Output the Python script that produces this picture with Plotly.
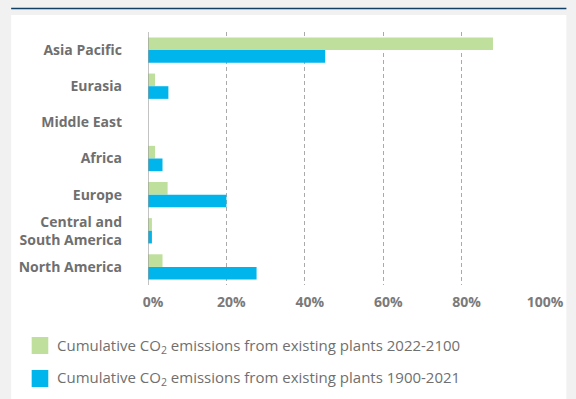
import plotly.graph_objects as go

regions = ["Asia Pacific", "Eurasia", "Middle East", "Africa", "Europe",
           "Central and<br>South America", "North America"]
future_2022_2100 = [88.0, 1.8, 0.0, 1.8, 5.0, 1.0, 3.7]
past_1900_2021 = [45.2, 5.2, 0.0, 3.7, 20.0, 1.0, 27.7]
series_names = ["Cumulative CO<sub>2</sub> emissions from existing plants 2022-2100",
                "Cumulative CO<sub>2</sub> emissions from existing plants 1900-2021"]
series_colors = ["#bfdf9c", "#00b5ec"]
tick_vals = [0, 20, 40, 60, 80, 100]
tick_text = ["0%", "20%", "40%", "60%", "80%", "100%"]

FONT = "Open Sans"
GRAY = "#6f6f6f"

fig = go.Figure()
for vals, name, col in zip([future_2022_2100, past_1900_2021], series_names, series_colors):
    fig.add_trace(go.Bar(y=regions, x=vals, orientation="h", name=name,
                         marker=dict(color=col, line=dict(width=0)),
                         showlegend=False))

W, H = 576, 399
L, R, T, B = 148, 27, 32, 114
PW, PH = W - L - R, H - T - B


def px(x):
    return (x - L) / PW


def py(y):
    return (H - B - y) / PH


fig.update_layout(
    width=W, height=H,
    margin=dict(l=L, r=R, t=T, b=B),
    paper_bgcolor="#f1f1f1",
    plot_bgcolor="rgba(0,0,0,0)",
    barmode="group", bargap=0.3, bargroupgap=0,
    font=dict(family=FONT, color=GRAY),
    xaxis=dict(range=[0, 100], tickvals=tick_vals, ticktext=tick_text,
               showgrid=True, gridcolor="#aaaaaa", gridwidth=1, griddash="4px,3px",
               zeroline=False, showline=False, ticks="",
               tickfont=dict(family=FONT, size=14, color="#7a7a7a", weight="bold"),
               ticklabelstandoff=7, ticklabelshift=5, fixedrange=True),
    yaxis=dict(autorange="reversed", showgrid=False, zeroline=False,
               showline=False, ticks="",
               tickfont=dict(family=FONT, size=14, color=GRAY, weight="bold"),
               ticklabelstandoff=25, fixedrange=True),
)

shapes = []
# white panel
shapes.append(dict(type="rect", xref="paper", yref="paper", layer="below",
                   x0=px(8), x1=px(576), y0=py(399), y1=py(15),
                   fillcolor="white", line=dict(width=0)))
# top navy rule
shapes.append(dict(type="line", xref="paper", yref="paper",
                   x0=px(8), x1=px(576), y0=py(8.5), y1=py(8.5),
                   line=dict(color="#123f66", width=1.5)))
# y axis baseline at 0
shapes.append(dict(type="line", xref="x", yref="paper", x0=0, x1=0, y0=0, y1=1,
                   line=dict(color="#9a9a9a", width=1.2)))
# legend swatches and labels
annotations = []
for i, (name, col) in enumerate(zip(series_names, series_colors)):
    yc = 345.5 + i * 33
    shapes.append(dict(type="rect", xref="paper", yref="paper",
                       x0=px(29), x1=px(46), y0=py(yc + 8.5), y1=py(yc - 8.5),
                       fillcolor=col, line=dict(width=0)))
    annotations.append(dict(xref="paper", yref="paper", x=px(53), y=py(yc),
                            xanchor="left", yanchor="middle", showarrow=False,
                            text=name, font=dict(family=FONT, size=15, color=GRAY)))
fig.update_layout(shapes=shapes, annotations=annotations)

fig.write_html("out.html")
